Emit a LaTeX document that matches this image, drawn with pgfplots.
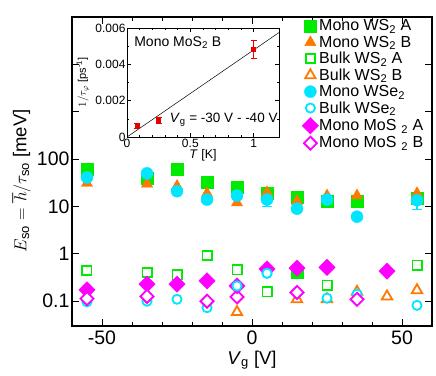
\documentclass[border=0pt]{standalone}
\usepackage{fontspec}
\setmainfont{Liberation Sans}
\usepackage{pgfplots}
\pgfplotsset{compat=1.18}
\definecolor{cgreen}{RGB}{0,235,0}
\definecolor{corange}{RGB}{255,120,0}
\definecolor{ccyan}{RGB}{0,230,255}
\definecolor{cmag}{RGB}{255,0,255}
\definecolor{cred}{RGB}{230,0,0}
\begin{document}
\begin{tikzpicture}
\begin{axis}[name=main, scale only axis, width=360pt, height=309pt,
 ymode=log, xmin=-60, xmax=60, ymin=0.03, ymax=1e5,
 xtick={-50,0,50}, xticklabels={-50,0,50},
 minor xtick={-40,-30,-20,-10,10,20,30,40},
 ytick={0.1,1,10,100,1000,10000}, yticklabels={0.1,1,10,100,,},
 yminorticks=false,
 tick align=inside, major tick length=7pt, minor tick length=4pt,
 every tick/.style={black, line width=0.8pt},
 axis line style={line width=1.1pt},
 ticklabel style={font=\fontsize{19.5}{22}\selectfont},
 xticklabel style={yshift=-1pt},
 yticklabel style={xshift=1pt},
 /pgf/number format/assume math mode=true,
 xlabel={\textit{V}\textsubscript{g} [V]},
 xlabel style={font=\fontsize{18.5}{20}\selectfont, at={(axis description cs:0.5,-0.11)}, anchor=center},
 ylabel={$E_{\mathrm{so}} = \hbar/\tau_{\mathrm{so}}$ [meV]},
 ylabel style={font=\fontsize{18.5}{20}\selectfont, at={(axis description cs:-0.14,0.47)}, anchor=center},
 legend style={at={(1,1)}, anchor=north east, xshift=-5pt, yshift=0pt, draw=none, fill=none,
   font=\fontsize{16}{17}\selectfont, row sep=2.3pt, nodes={inner sep=0.6pt}},
 legend cell align=left,
]
% Mono WS2 A
\addplot[only marks, mark=square*, mark size=6pt, color=cgreen] coordinates {
 (-55,62) (-35,40) (-25,61) (-15,32) (-5,25) (5,19) (15,16) (25,13) (35,13) (55,15) (15,0.41)};
\addlegendentry{Mono WS\textsubscript{2} A}
% Mono WS2 B
\addplot[only marks, mark=triangle*, mark size=6.5pt, color=corange] coordinates {
 (-55,31) (-35,30) (-25,27) (-15,19) (-5,12) (5,20) (15,13) (25,17) (35,17) (55,19)};
\addlegendentry{Mono WS\textsubscript{2} B}
% Bulk WS2 A
\addplot[only marks, mark=square*, mark size=4.6pt, draw=cgreen, fill=white, mark options={line width=1.8pt, fill=white}] coordinates {
 (-55,0.44) (-35,0.41) (-25,0.36) (-15,0.92) (-5,0.46) (5,0.158) (25,0.22) (55,0.58)};
\addlegendentry{Bulk WS\textsubscript{2} A}
% Bulk WS2 B
\addplot[only marks, mark=triangle*, mark size=6pt, draw=corange, fill=white, mark options={line width=1.8pt, fill=white}] coordinates {
 (-5,0.059) (15,0.11) (25,0.11) (35,0.158) (45,0.126) (55,0.171)};
\addlegendentry{Bulk WS\textsubscript{2} B}
% Mono WSe2
\addplot[only marks, mark=*, mark size=6pt, color=ccyan,
 error bars/.cd, y dir=both, y explicit, error bar style={line width=1.2pt}, error mark options={rotate=90, mark size=5pt, line width=1.2pt}] coordinates {
 (-55,41) (-35,50) (-25,21) (-15,14) (-5,17) (5,14) +- (0,4) (15,9) (25,14) (35,6.1) (55,13.5) +- (0,5)};
\addlegendentry{Mono WSe\textsubscript{2}}
% Bulk WSe2
\addplot[only marks, mark=*, mark size=4.6pt, draw=ccyan, fill=white, mark options={line width=1.8pt, fill=white}] coordinates {
 (-55,0.097) (-35,0.1) (-25,0.11) (-15,0.073) (-5,0.21) (5,0.39) (25,0.116) (35,0.141) (55,0.082)};
\addlegendentry{Bulk WSe\textsubscript{2}}
% Mono MoS2 A
\addplot[only marks, mark=square*, mark size=5.8pt, color=cmag, mark options={rotate=45}] coordinates {
 (-55,0.174) (-35,0.23) (-25,0.23) (-15,0.27) (5,0.48) (15,0.50) (25,0.52) (45,0.43)};
\addlegendentry{Mono MoS\hspace{0.3em}\textsubscript{2} A}
% Mono MoS2 B
\addplot[only marks, mark=square*, mark size=4.6pt, draw=cmag, fill=white, mark options={rotate=45, line width=1.8pt, fill=white}] coordinates {
 (-55,0.114) (-35,0.126) (-15,0.1) (-5,0.123) (15,0.153) (35,0.11)};
\addlegendentry{Mono MoS\hspace{0.3em}\textsubscript{2} B}
% MoS2 A point partly hidden behind the open circle at -5
\addplot[only marks, mark=square*, mark size=5.8pt, color=cmag, mark options={rotate=45}, forget plot] coordinates {(-5,0.21)};
\addplot[only marks, mark=*, mark size=4.6pt, draw=ccyan, fill=white, mark options={line width=1.8pt, fill=white}, forget plot] coordinates {(-5,0.21) (5,0.39)};
\end{axis}
\begin{axis}[at={(55pt,189pt)}, anchor=south west, scale only axis, width=152pt, height=109pt,
 xmin=0, xmax=1.2, ymin=0, ymax=0.006,
 xtick={0,0.5,1}, xticklabels={0,0.5,1}, minor x tick num=4,
 ytick={0,0.002,0.004,0.006}, yticklabels={0,0.002,0.004,0.006}, minor y tick num=1,
 scaled y ticks=false,
 tick align=inside, major tick length=4pt, minor tick length=2pt,
 every tick/.style={black, line width=0.5pt},
 axis line style={line width=0.7pt},
 ticklabel style={font=\fontsize{12}{13}\selectfont},
 xticklabel style={yshift=1pt},
 yticklabel style={xshift=2pt},
 axis background/.style={fill=white},
 xlabel={\textit{T} [K]},
 xlabel style={font=\fontsize{12.5}{13}\selectfont, at={(axis description cs:0.5,-0.17)}, anchor=center},
 ylabel={$1/\tau_\varphi$ [ps\textsuperscript{-1}]},
 ylabel style={font=\fontsize{11}{12}\selectfont, at={(axis description cs:-0.29,0.5)}, anchor=center},
]
\addplot[black, line width=0.5pt] coordinates {(0,0) (1.2,0.00575)};
\addplot[only marks, mark=square*, mark size=2pt, color=cred,
 error bars/.cd, y dir=both, y explicit, error bar style={line width=0.8pt}, error mark options={rotate=90, mark size=3pt, line width=0.8pt}] coordinates {
 (0.08,0.00062) +- (0,0.00012) (0.25,0.00092) +- (0,0.00018) (1,0.00484) +- (0,0.0005)};
\node[anchor=west, font=\fontsize{14}{15}\selectfont] at (axis cs:0.03,0.0052) {Mono MoS\textsubscript{2} B};
\node[anchor=west, font=\fontsize{13.5}{14}\selectfont] at (axis cs:0.31,0.00094) {\textit{V}\textsubscript{g} = -30 V - -40 V};
\end{axis}
\pgfresetboundingbox
\path (-72pt,-49pt) rectangle (364pt,326pt);
\end{tikzpicture}
\end{document}
